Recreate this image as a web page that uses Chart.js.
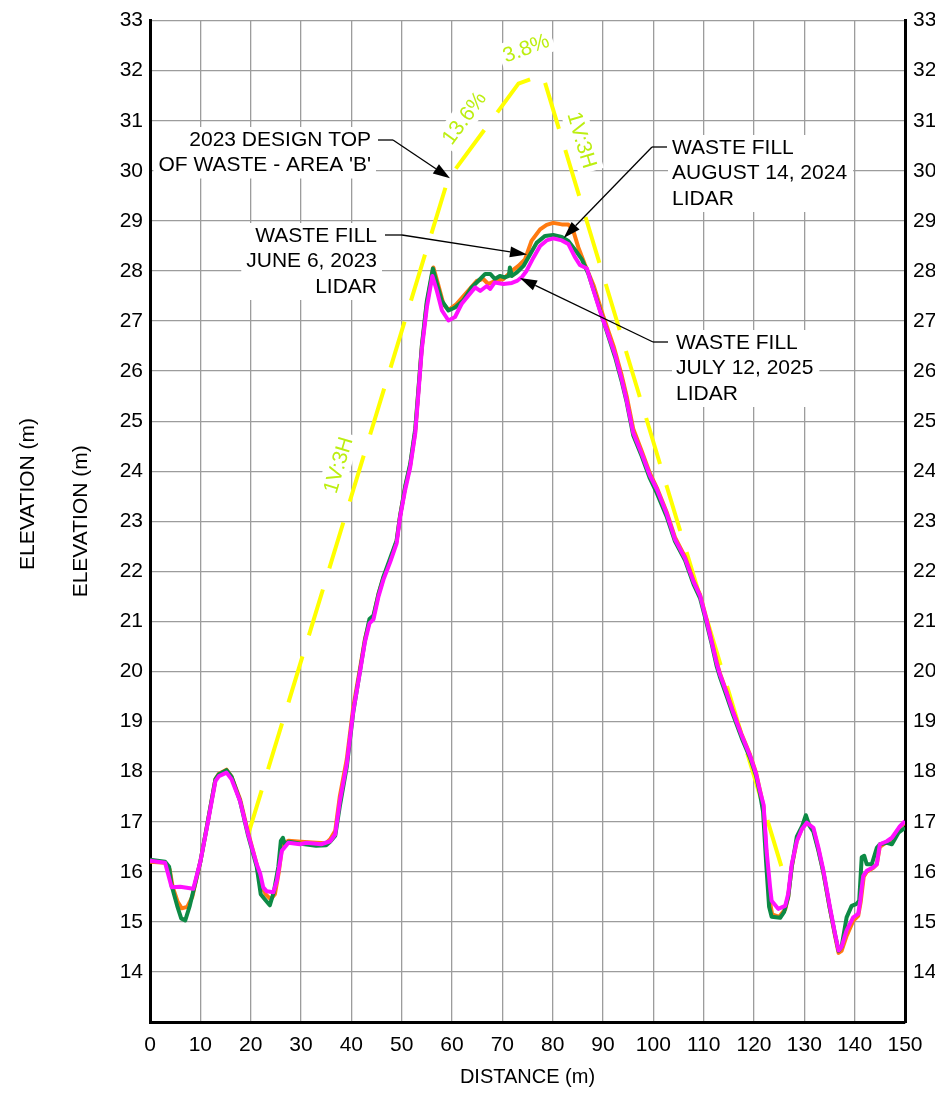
<!DOCTYPE html>
<html>
<head>
<meta charset="utf-8">
<script src="https://cdn.jsdelivr.net/npm/chart.js@4.4.1/dist/chart.umd.min.js"></script>
<style>
  html, body { margin: 0; padding: 0; background: #fff; }
  #wrap { width: 935px; height: 1095px; position: relative; }
</style>
</head>
<body>
<div id="wrap"><canvas id="profile" width="935" height="1095"></canvas></div>
<script>
// Cross-section profile: distance (m) along section vs elevation (m)

const distanceTicks = [0, 10, 20, 30, 40, 50, 60, 70, 80, 90, 100, 110, 120, 130, 140, 150];
const elevationTicks = [13, 14, 15, 16, 17, 18, 19, 20, 21, 22, 23, 24, 25, 26, 27, 28, 29, 30, 31, 32, 33];

// 2023 design top of waste - Area 'B' (distance, elevation)
const designTop = [[19.4, 16.71], [59.2, 29.83], [73.2, 31.74], [78.0, 31.92], [126.6, 15.72]];

// Waste fill, June 6, 2023 LiDAR
const fillJune2023 = [
  [0, 16.2], [3, 16.18], [3.9, 16.05], [4.5, 15.7], [5.5, 15.4], [6.3, 15.27], [7.4, 15.3], [8.4, 15.5],
  [9.2, 15.85], [10, 16.2], [11.3, 16.9], [13, 17.85], [13.7, 17.96], [15.2, 18.04], [16.2, 17.9],
  [17.9, 17.45], [19.5, 16.78], [21.2, 16.15], [22, 15.75], [23, 15.55], [24, 15.45], [24.8, 15.55],
  [25.6, 16.0], [26.3, 16.55], [27.5, 16.62], [30, 16.6], [33, 16.58], [35, 16.57], [35.8, 16.65],
  [36.8, 16.82], [37.7, 17.5], [39.1, 18.25], [40.4, 19.3], [41.7, 20.05], [42.7, 20.65], [43.6, 21.0],
  [44.4, 21.1], [45.4, 21.55], [46.4, 21.88], [47.7, 22.22], [49.0, 22.6], [49.7, 23.12], [50.7, 23.68],
  [51.7, 24.12], [52.7, 24.8], [53.3, 25.58], [54.0, 26.48], [55.0, 27.35], [56.3, 28.07], [57.2, 27.75],
  [58.3, 27.34], [59.3, 27.22], [60.9, 27.34], [62.9, 27.57], [64.9, 27.8], [66.2, 27.84], [67.2, 27.74],
  [68.5, 27.8], [70.2, 27.84], [71.9, 28.0], [73.2, 28.1], [74.5, 28.23], [75.8, 28.6], [77.5, 28.83],
  [78.8, 28.92], [80.1, 28.96], [81.8, 28.93], [83.1, 28.93], [84.1, 28.8], [85.1, 28.47], [86.4, 28.13],
  [88.1, 27.72], [90.1, 27.08], [92.1, 26.5], [93.7, 25.92], [94.7, 25.5], [96.0, 24.85], [97.7, 24.4],
  [99.3, 23.96], [100.7, 23.67], [102.7, 23.17], [104.3, 22.68], [106.3, 22.29], [108, 21.81], [109.3, 21.53],
  [110.6, 21.04], [111.6, 20.61], [112.6, 20.19], [113.2, 19.97], [114.6, 19.58], [115.9, 19.19], [117.6, 18.73],
  [119.2, 18.34], [120.4, 17.98], [121.2, 17.62], [121.9, 17.3], [122.5, 16.3], [123.1, 15.45], [123.6, 15.15],
  [125.0, 15.1], [126.2, 15.25], [126.8, 15.5], [127.5, 16.1], [128.5, 16.62], [129.5, 16.86], [130.5, 17.0],
  [131.8, 16.85], [132.8, 16.45], [133.8, 15.98], [135.1, 15.25], [136.1, 14.72], [136.8, 14.38], [137.4, 14.42],
  [138.4, 14.72], [139.7, 15.02], [140.7, 15.12], [141.2, 15.4], [141.8, 15.9], [142.4, 16.0], [143.7, 16.08],
  [144.4, 16.15], [145.0, 16.5], [146.4, 16.6], [147.4, 16.65], [149.0, 16.9], [150, 16.98]
];

// Waste fill, August 14, 2024 LiDAR
const fillAugust2024 = [
  [0, 16.24], [3, 16.2], [3.8, 16.1], [4.3, 15.72], [5.4, 15.32], [6.2, 15.07], [7.0, 15.03], [7.9, 15.32],
  [9.1, 15.82], [10, 16.2], [11.3, 16.9], [13, 17.85], [13.7, 17.95], [15.2, 18.03], [16.2, 17.9],
  [17.9, 17.41], [19.5, 16.72], [21.2, 16.1], [22, 15.55], [22.8, 15.45], [23.8, 15.33], [24.6, 15.6],
  [25.5, 16.1], [26.0, 16.62], [26.4, 16.68], [26.8, 16.55], [27.6, 16.6], [30, 16.56], [33, 16.52],
  [35, 16.53], [35.8, 16.6], [36.8, 16.72], [37.7, 17.3], [39.1, 18.1], [40.4, 19.2], [41.7, 20.0],
  [42.7, 20.62], [43.6, 21.05], [44.4, 21.12], [45.4, 21.55], [46.4, 21.9], [47.7, 22.26], [49.0, 22.62],
  [49.7, 23.12], [50.7, 23.7], [51.7, 24.15], [52.7, 24.85], [53.3, 25.6], [54.0, 26.5], [55.0, 27.4],
  [56.2, 28.05], [57.0, 27.75], [58, 27.4], [59.3, 27.21], [60.6, 27.27], [62.2, 27.41], [63.9, 27.67],
  [65.6, 27.84], [66.6, 27.94], [67.6, 27.94], [68.5, 27.84], [69.5, 27.9], [70.5, 27.87], [71.3, 27.9],
  [71.5, 28.07], [71.9, 27.9], [72.9, 27.97], [74.2, 28.1], [75.5, 28.33], [76.8, 28.56], [78.5, 28.7],
  [80.1, 28.72], [81.8, 28.68], [83.1, 28.6], [84.4, 28.43], [85.8, 28.23], [87.1, 27.94], [88.8, 27.41],
  [90.7, 26.81], [92.4, 26.28], [93.7, 25.8], [94.7, 25.38], [96.0, 24.72], [97.7, 24.3], [99.3, 23.86],
  [100.7, 23.56], [102.7, 23.08], [104.3, 22.6], [106.3, 22.22], [108, 21.74], [109.3, 21.46], [110.6, 20.96],
  [111.6, 20.55], [112.6, 20.1], [113.2, 19.9], [114.6, 19.5], [115.9, 19.12], [117.6, 18.66], [119.2, 18.28],
  [120.4, 17.92], [121.2, 17.55], [121.8, 17.2], [122.4, 16.2], [123.0, 15.3], [123.5, 15.1], [125.2, 15.08],
  [126.0, 15.2], [126.8, 15.5], [127.5, 16.1], [128.5, 16.7], [129.6, 16.92], [130.3, 17.13], [131.0, 16.92],
  [131.8, 16.8], [132.8, 16.42], [133.8, 15.98], [135.1, 15.25], [136.1, 14.75], [136.8, 14.42], [137.4, 14.5],
  [138.4, 15.09], [139.4, 15.32], [140.4, 15.36], [140.9, 15.42], [141.4, 16.29], [141.9, 16.32], [142.4, 16.15],
  [143.4, 16.15], [144.4, 16.48], [145.0, 16.55], [146.4, 16.58], [147.4, 16.55], [148.7, 16.78], [150, 16.88]
];

// Waste fill, July 12, 2025 LiDAR
const fillJuly2025 = [
  [0, 16.22], [3.0, 16.18], [4.3, 15.69], [6, 15.7], [8.6, 15.66], [10, 16.2], [11.3, 16.88], [13, 17.81],
  [13.7, 17.91], [15.2, 17.98], [16.2, 17.85], [17.9, 17.41], [19.5, 16.75], [21.2, 16.15], [21.9, 15.96],
  [22.5, 15.69], [23.2, 15.61], [24.5, 15.59], [25.2, 15.82], [26.2, 16.42], [27.5, 16.58], [29.8, 16.55],
  [31.1, 16.58], [34, 16.55], [35.8, 16.61], [36.8, 16.75], [37.7, 17.4], [39.1, 18.16], [40.4, 19.22],
  [41.7, 19.98], [42.7, 20.59], [43.6, 20.96], [44.4, 21.04], [45.4, 21.5], [46.4, 21.84], [47.7, 22.18],
  [49.0, 22.56], [49.7, 23.09], [50.7, 23.63], [51.7, 24.08], [52.7, 24.76], [53.3, 25.52], [54.0, 26.43],
  [55.0, 27.27], [56.1, 27.9], [57.0, 27.6], [58.0, 27.21], [59.3, 27.01], [60.6, 27.08], [61.9, 27.34],
  [63.2, 27.5], [64.6, 27.67], [65.6, 27.6], [66.9, 27.7], [67.6, 27.64], [68.5, 27.77], [70.2, 27.74],
  [71.9, 27.76], [72.9, 27.8], [73.9, 27.88], [74.8, 28.0], [76.2, 28.27], [77.5, 28.5], [78.8, 28.61],
  [80.1, 28.65], [81.8, 28.61], [83.1, 28.54], [84.4, 28.28], [85.4, 28.12], [86.8, 28.05], [87.9, 27.68],
  [89.4, 27.2], [90.7, 26.83], [92.4, 26.33], [93.7, 25.84], [94.7, 25.41], [96.0, 24.77], [97.7, 24.35],
  [99.3, 23.92], [100.7, 23.64], [102.7, 23.14], [104.3, 22.64], [106.3, 22.26], [108, 21.79], [109.3, 21.51],
  [110.6, 21.01], [111.6, 20.59], [112.6, 20.16], [113.2, 19.95], [114.6, 19.56], [115.9, 19.17], [117.6, 18.71],
  [119.2, 18.32], [120.4, 17.96], [121.2, 17.61], [121.9, 17.34], [122.5, 16.42], [123.2, 15.69], [123.5, 15.42],
  [124.8, 15.26], [126.2, 15.32], [126.8, 15.56], [127.5, 16.15], [128.5, 16.61], [129.5, 16.85], [130.5, 16.98],
  [131.8, 16.88], [132.8, 16.48], [133.8, 16.02], [135.1, 15.29], [136.1, 14.76], [136.8, 14.43], [137.4, 14.5],
  [138.4, 14.83], [139.7, 15.09], [140.7, 15.16], [141.1, 15.42], [141.7, 15.92], [142.4, 16.02], [143.7, 16.09],
  [144.4, 16.15], [145.0, 16.55], [146.4, 16.61], [147.4, 16.68], [149.0, 16.91], [150, 17.01]
];

const FONT = "'Liberation Sans', Arial, Helvetica, sans-serif";
const GRID = '#9c9c9c';
const SLOPE_COLOR = '#bcee10';

// Callout notes: text block position in pixels, arrow tip in data units
const notes = [
  { lines: ['2023 DESIGN TOP', "OF WASTE - AREA 'B'"], align: 'right', x: 371, y: 140,
    leader: [[378, 140], [393, 140]], tip: [59.6, 29.85] },
  { lines: ['WASTE FILL', 'JUNE 6, 2023', 'LIDAR'], align: 'right', x: 377, y: 236,
    leader: [[385, 235], [402, 235]], tip: [74.9, 28.33] },
  { lines: ['WASTE FILL', 'AUGUST 14, 2024', 'LIDAR'], align: 'left', x: 672, y: 148,
    leader: [[667, 147], [652, 147]], tip: [82.2, 28.66] },
  { lines: ['WASTE FILL', 'JULY 12, 2025', 'LIDAR'], align: 'left', x: 676, y: 343,
    leader: [[668, 342], [653, 342]], tip: [73.5, 27.86] }
];

// Slope labels along the design line (pixel centre, rotation in degrees)
const slopeLabels = [
  { text: '13.6%', x: 464, y: 118, rot: -53.7 },
  { text: '3.8%', x: 526, y: 48, rot: -20.8 },
  { text: '1V:3H', x: 582, y: 140, rot: 73.3 },
  { text: '1V:3H', x: 338, y: 465, rot: -73.3 }
];

const LINE_H = 25.5;

function toPoints(pairs) { return pairs.map(p => ({ x: p[0], y: p[1] })); }

function drawArrow(ctx, fx, fy, tx, ty) {
  const ang = Math.atan2(ty - fy, tx - fx);
  const len = 17, half = 5.5;
  ctx.beginPath();
  ctx.moveTo(fx, fy);
  ctx.lineTo(tx - Math.cos(ang) * len, ty - Math.sin(ang) * len);
  ctx.stroke();
  ctx.beginPath();
  ctx.moveTo(tx, ty);
  ctx.lineTo(tx - Math.cos(ang) * len - Math.sin(ang) * half, ty - Math.sin(ang) * len + Math.cos(ang) * half);
  ctx.lineTo(tx - Math.cos(ang) * len + Math.sin(ang) * half, ty - Math.sin(ang) * len - Math.cos(ang) * half);
  ctx.closePath();
  ctx.fill();
}

const callouts = {
  id: 'callouts',
  beforeDatasetsDraw(chart) {
    const ctx = chart.ctx;
    ctx.save();
    ctx.font = '21px ' + FONT;
    ctx.fillStyle = '#ffffff';
    // white backing behind note text
    notes.forEach(n => {
      const w = Math.max(...n.lines.map(t => ctx.measureText(t).width));
      const left = n.align === 'right' ? n.x - w - 5 : n.x - 4;
      const top = n.y - 13;
      const h = (n.lines.length - 1) * LINE_H + 26;
      ctx.fillRect(left, top, w + 10, h);
    });
    // white backing behind slope labels
    slopeLabels.forEach(s => {
      const w = ctx.measureText(s.text).width;
      ctx.save();
      ctx.translate(s.x, s.y);
      ctx.rotate(s.rot * Math.PI / 180);
      ctx.fillRect(-w / 2 - 4, -13, w + 8, 26);
      ctx.restore();
    });
    ctx.restore();
  },
  afterDatasetsDraw(chart) {
    const ctx = chart.ctx;
    const xs = chart.scales.x, ys = chart.scales.y;
    ctx.save();
    ctx.font = '21px ' + FONT;
    ctx.fillStyle = '#000';
    ctx.strokeStyle = '#000';
    ctx.lineWidth = 1.3;
    ctx.textBaseline = 'middle';
    notes.forEach(n => {
      ctx.textAlign = n.align;
      n.lines.forEach((t, i) => ctx.fillText(t, n.x, n.y + i * LINE_H));
      const [a, b] = n.leader;
      ctx.beginPath();
      ctx.moveTo(a[0], a[1]);
      ctx.lineTo(b[0], b[1]);
      ctx.stroke();
      drawArrow(ctx, b[0], b[1], xs.getPixelForValue(n.tip[0]), ys.getPixelForValue(n.tip[1]));
    });
    // slope annotations of the design surface
    ctx.fillStyle = SLOPE_COLOR;
    ctx.textAlign = 'center';
    slopeLabels.forEach(s => {
      ctx.save();
      ctx.translate(s.x, s.y);
      ctx.rotate(s.rot * Math.PI / 180);
      ctx.fillText(s.text, 0, 1);
      ctx.restore();
    });
    // outer duplicate elevation caption
    ctx.fillStyle = '#000';
    ctx.save();
    ctx.translate(28, 494);
    ctx.rotate(-Math.PI / 2);
    ctx.fillText('ELEVATION (m)', 0, 0);
    ctx.restore();
    ctx.restore();
  }
};

const tickFont = { family: FONT, size: 21 };
const elevationLabel = v => (v === 13 ? '' : String(v));

new Chart(document.getElementById('profile'), {
  type: 'line',
  data: {
    datasets: [
      { label: 'Waste Fill July 12, 2025 LiDAR', data: toPoints(fillJuly2025), borderColor: '#ff10ff',
        borderWidth: 4, order: 0 },
      { label: 'Waste Fill August 14, 2024 LiDAR', data: toPoints(fillAugust2024), borderColor: '#0d8a45',
        borderWidth: 4, order: 1 },
      { label: 'Waste Fill June 6, 2023 LiDAR', data: toPoints(fillJune2023), borderColor: '#ff7a10',
        borderWidth: 4, order: 2 },
      { label: "2023 Design Top of Waste - Area 'B'", data: toPoints(designTop), borderColor: '#ffff00',
        borderWidth: 4, borderDash: [48, 22], order: 3 }
    ]
  },
  options: {
    responsive: false,
    animation: false,
    devicePixelRatio: 1,
    layout: { padding: { top: 15, left: 0, right: 0, bottom: 0 } },
    elements: {
      point: { radius: 0, hoverRadius: 0 },
      line: { tension: 0, fill: false, borderJoinStyle: 'round', borderCapStyle: 'butt' }
    },
    plugins: { legend: { display: false }, tooltip: { enabled: false } },
    scales: {
      x: {
        type: 'linear', position: 'bottom', min: 0, max: 150,
        afterBuildTicks: s => { s.ticks = distanceTicks.map(v => ({ value: v })); },
        afterFit: s => { s.height = 73; },
        grid: { color: GRID, lineWidth: 1.3, drawTicks: false },
        border: { color: '#000', width: 3 },
        ticks: { color: '#000', font: tickFont, padding: 11, maxRotation: 0, autoSkip: false },
        title: { display: true, text: 'DISTANCE (m)', color: '#000', font: { family: FONT, size: 20 },
                 padding: { top: 0, bottom: 6 } }
      },
      y: {
        type: 'linear', position: 'left', min: 13, max: 33,
        afterBuildTicks: s => { s.ticks = elevationTicks.map(v => ({ value: v })); },
        afterFit: s => { s.width = 150; },
        grid: { color: GRID, lineWidth: 1.3, drawTicks: false },
        border: { color: '#000', width: 3 },
        ticks: { color: '#000', font: tickFont, padding: 7, callback: elevationLabel },
        title: { display: true, text: 'ELEVATION (m)', color: '#000', font: { family: FONT, size: 21 },
                 padding: { top: 69, bottom: 0 } }
      },
      y2: {
        type: 'linear', position: 'right', min: 13, max: 33,
        afterBuildTicks: s => { s.ticks = elevationTicks.map(v => ({ value: v })); },
        afterFit: s => { s.width = 30; },
        grid: { display: false, drawTicks: false },
        border: { color: '#000', width: 3 },
        ticks: { color: '#000', font: tickFont, padding: 8, callback: elevationLabel }
      }
    }
  },
  plugins: [callouts]
});
</script>
</body>
</html>
